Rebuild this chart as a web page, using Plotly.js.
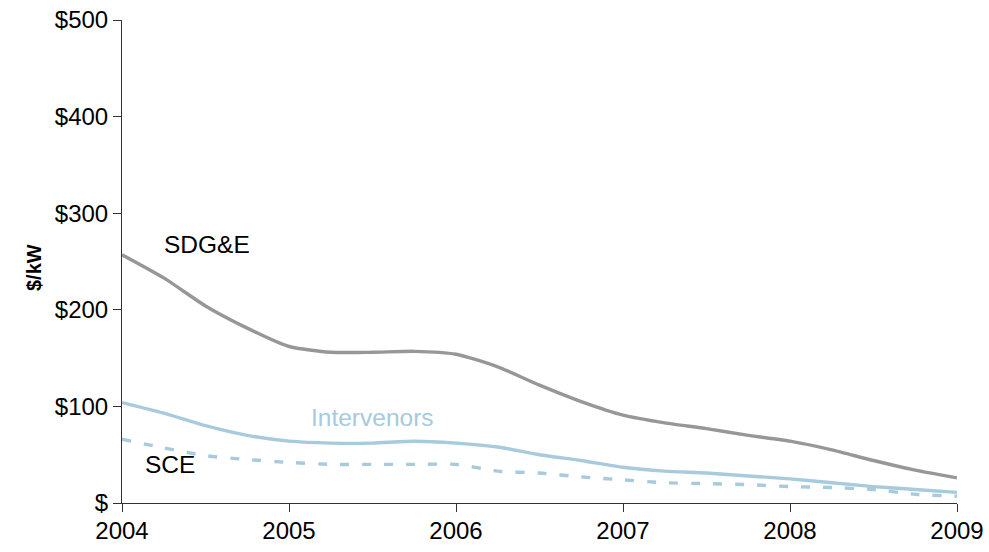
<!DOCTYPE html>
<html>
<head>
<meta charset="utf-8">
<script src="https://cdn.plot.ly/plotly-3.0.1.min.js"></script>
<style>html,body{margin:0;padding:0;background:#fff;}#chart{width:989px;height:552px;}</style>
</head>
<body>
<div id="chart"></div>
<script>
const quarters = [2004.0,2004.25,2004.5,2004.75,2005.0,2005.25,2005.5,2005.75,2006.0,2006.25,2006.5,2006.75,2007.0,2007.25,2007.5,2007.75,2008.0,2008.25,2008.5,2008.75,2009.0];
const sdge = [257,233,204,181,162,156,156,157,154,141,122,105,91,83,77,70,64,55,44,34,26];
const intervenors = [104,93,80,70,64,62,62,64,62,58,50,44,37,33,31,28,25,21,17,14,11];
const sce = [66,57,49,45,42,40,40,40,40,33,31,27,24,21,20,19,17,16,14,9,7];
const yTickVals = [0,100,200,300,400,500];
const yTickText = ["$","$100","$200","$300","$400","$500"];
const xTickVals = [2004,2005,2006,2007,2008,2009];

const gray = "#979797";
const blue = "#a7cadd";
const font = "Liberation Sans, Arial, sans-serif";

const traces = [
  {x: quarters, y: sdge, mode: "lines", line: {color: gray, width: 3.4, shape: "spline", smoothing: 0.6}, name: "SDG&E"},
  {x: quarters, y: intervenors, mode: "lines", line: {color: blue, width: 3.4, shape: "spline", smoothing: 0.6}, name: "Intervenors"},
  {x: quarters, y: sce, mode: "lines", line: {color: blue, width: 3.4, dash: "9px,13px", shape: "spline", smoothing: 0.6}, name: "SCE"}
];

const L = 122, R = 32, T = 20, B = 49, W = 989, H = 552;
const layout = {
  width: W, height: H,
  margin: {l: L, r: R, t: T, b: B},
  paper_bgcolor: "#fff", plot_bgcolor: "#fff",
  showlegend: false,
  font: {family: font, size: 24, color: "#000"},
  xaxis: {
    range: [2004, 2009], tickvals: xTickVals, ticktext: xTickVals.map(String),
    showgrid: false, zeroline: false, showline: true, linecolor: "#333", linewidth: 1,
    ticks: "outside", ticklen: 8, tickcolor: "#333", tickwidth: 1, ticklabelstandoff: -2,
    tickfont: {family: font, size: 24, color: "#000"}
  },
  yaxis: {
    range: [0, 500], tickvals: yTickVals, ticktext: yTickText,
    showgrid: false, zeroline: false, showline: true, linecolor: "#333", linewidth: 1,
    ticks: "outside", ticklen: 8, tickcolor: "#333", tickwidth: 1,
    tickfont: {family: font, size: 24, color: "#000"}
  },
  annotations: [
    {x: (21 - L) / (W - L - R), y: (503 - 268) / (503 - T), xref: "paper", yref: "paper", text: "<b>$/kW</b>",
     showarrow: false, textangle: -90, font: {family: font, size: 20, color: "#000"}},
    {x: 2004.51, y: 268, xref: "x", yref: "y", text: "SDG&E", showarrow: false, font: {family: font, size: 24.5, color: "#000"}},
    {x: 2005.50, y: 88, xref: "x", yref: "y", text: "Intervenors", showarrow: false, font: {family: font, size: 24.5, color: blue}},
    {x: 2004.29, y: 40, xref: "x", yref: "y", text: "SCE", showarrow: false, font: {family: font, size: 24.5, color: "#000"}}
  ]
};

Plotly.newPlot("chart", traces, layout, {displayModeBar: false, staticPlot: true});
</script>
</body>
</html>
